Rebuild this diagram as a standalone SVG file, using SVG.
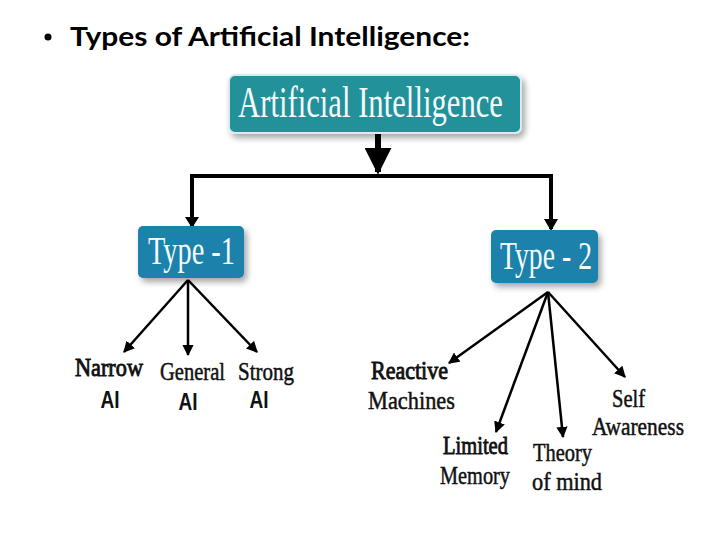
<svg xmlns="http://www.w3.org/2000/svg" width="720" height="540" viewBox="0 0 720 540">
<defs>
<style>
.title{font-family:Lato,"Open Sans",sans-serif;font-weight:bold;font-size:27px;fill:#000}
.box{font-family:"Liberation Serif","Times New Roman",serif;fill:#f4fbfb}
.lbl{font-family:"Liberation Serif","Times New Roman",serif;font-size:26px;fill:#111;stroke:#111;stroke-width:0.5}
.b{stroke-width:0.9}
.ai{font-family:"Liberation Sans",Arial,sans-serif;font-weight:bold;font-size:24px;fill:#111}
.ln{stroke:#000;fill:none}
</style>
<marker id="ah" viewBox="0 0 10 10" refX="9" refY="5" markerWidth="4.5" markerHeight="4.5" orient="auto" markerUnits="strokeWidth">
<path d="M0,0 L10,5 L0,10 z" fill="#000"/>
</marker>
<filter id="sh" x="-10%" y="-10%" width="130%" height="140%">
<feDropShadow dx="3" dy="4" stdDeviation="3" flood-color="#000" flood-opacity="0.35"/>
</filter>
</defs>
<rect width="720" height="540" fill="#fff"/>
<g id="title">
<circle cx="48" cy="37" r="3.5" fill="#000"/>
<text class="title" x="70" y="46" textLength="400" lengthAdjust="spacingAndGlyphs">Types of Artificial Intelligence:</text>
</g>
<g id="connectors">
<line class="ln" x1="378" y1="134" x2="378" y2="172" stroke-width="6" marker-end="url(#ah)"/>
<polyline class="ln" points="192,226 192,176 551,176 551,229" stroke-width="4"/>
<path d="M185,217 L192,228 L199,217 z" fill="#000"/>
<path d="M544,219 L551,231 L558,219 z" fill="#000"/>
<g stroke-width="2.5">
<line class="ln" x1="188" y1="280" x2="124" y2="352" marker-end="url(#ah)"/>
<line class="ln" x1="188" y1="280" x2="188" y2="355" marker-end="url(#ah)"/>
<line class="ln" x1="188" y1="280" x2="257" y2="352" marker-end="url(#ah)"/>
<line class="ln" x1="548" y1="292" x2="449" y2="363" marker-end="url(#ah)"/>
<line class="ln" x1="548" y1="292" x2="496" y2="432" marker-end="url(#ah)"/>
<line class="ln" x1="548" y1="292" x2="563" y2="437" marker-end="url(#ah)"/>
<line class="ln" x1="548" y1="292" x2="625" y2="377" marker-end="url(#ah)"/>
</g>
</g>
<g id="node-ai">
<rect x="229" y="75" width="292" height="58" rx="6" fill="#21919a" stroke="#d8ecee" stroke-width="2" filter="url(#sh)"/>
<text class="box" x="238" y="117" font-size="44" textLength="265" lengthAdjust="spacingAndGlyphs">Artificial Intelligence</text>
</g>
<g id="node-type1">
<rect x="138" y="226" width="106" height="52" rx="5" fill="#1f82ab" filter="url(#sh)"/>
<text class="box" x="148" y="264" font-size="41" textLength="87" lengthAdjust="spacingAndGlyphs">Type -1</text>
</g>
<g id="node-type2">
<rect x="491" y="230" width="107" height="53" rx="5" fill="#1f82ab" filter="url(#sh)"/>
<text class="box" x="500" y="269" font-size="41" textLength="92" lengthAdjust="spacingAndGlyphs">Type - 2</text>
</g>
<g id="node-narrow">
<text class="lbl b" x="75" y="376" textLength="68" lengthAdjust="spacingAndGlyphs">Narrow</text>
<text class="ai" x="110" y="408" text-anchor="middle" textLength="19" lengthAdjust="spacingAndGlyphs">AI</text>
</g>
<g id="node-general">
<text class="lbl" x="160" y="380" textLength="65" lengthAdjust="spacingAndGlyphs">General</text>
<text class="ai" x="188" y="410" text-anchor="middle" textLength="19" lengthAdjust="spacingAndGlyphs">AI</text>
</g>
<g id="node-strong">
<text class="lbl" x="238" y="380" textLength="56" lengthAdjust="spacingAndGlyphs">Strong</text>
<text class="ai" x="259" y="408" text-anchor="middle" textLength="19" lengthAdjust="spacingAndGlyphs">AI</text>
</g>
<g id="node-reactive">
<text class="lbl b" x="371" y="379" textLength="77" lengthAdjust="spacingAndGlyphs">Reactive</text>
<text class="lbl" x="368" y="409" textLength="87" lengthAdjust="spacingAndGlyphs">Machines</text>
</g>
<g id="node-limited">
<text class="lbl b" x="443" y="454" textLength="65" lengthAdjust="spacingAndGlyphs">Limited</text>
<text class="lbl" x="440" y="484" textLength="70" lengthAdjust="spacingAndGlyphs">Memory</text>
</g>
<g id="node-theory">
<text class="lbl" x="533" y="461" textLength="59" lengthAdjust="spacingAndGlyphs">Theory</text>
<text class="lbl" x="532" y="490" textLength="70" lengthAdjust="spacingAndGlyphs">of mind</text>
</g>
<g id="node-self">
<text class="lbl" x="612" y="407" textLength="33" lengthAdjust="spacingAndGlyphs">Self</text>
<text class="lbl" x="592" y="435" textLength="92" lengthAdjust="spacingAndGlyphs">Awareness</text>
</g>
</svg>
